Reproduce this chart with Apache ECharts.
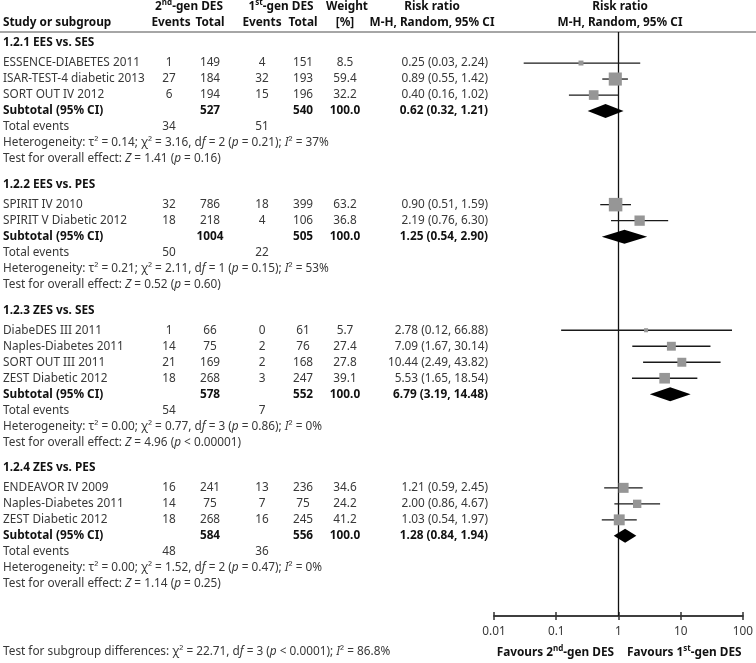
<!DOCTYPE html>
<html><head><meta charset="utf-8">
<script src="https://cdn.jsdelivr.net/npm/echarts@6/dist/echarts.min.js"></script>
<style>html,body{margin:0;padding:0;background:#fff}#c{width:756px;height:663px}</style>
</head><body><div id="c"></div>
<script>
// ---------- data ----------
const groupNames = ['1.2.1 EES vs. SES', '1.2.2 EES vs. PES', '1.2.3 ZES vs. SES', '1.2.4 ZES vs. PES'];
const studyNames = ['ESSENCE-DIABETES 2011', 'ISAR-TEST-4 diabetic 2013', 'SORT OUT IV 2012',
  'SPIRIT IV 2010', 'SPIRIT V Diabetic 2012',
  'DiabeDES III 2011', 'Naples-Diabetes 2011', 'SORT OUT III 2011', 'ZEST Diabetic 2012',
  'ENDEAVOR IV 2009', 'Naples-Diabetes 2011', 'ZEST Diabetic 2012'];
const studyGroup = [0, 0, 0, 1, 1, 2, 2, 2, 2, 3, 3, 3];
const events2 = [1, 27, 6, 32, 18, 1, 14, 21, 18, 16, 14, 18];
const total2 = [149, 184, 194, 786, 218, 66, 75, 169, 268, 241, 75, 268];
const events1 = [4, 32, 15, 18, 4, 0, 2, 2, 3, 13, 7, 16];
const total1 = [151, 193, 196, 399, 106, 61, 76, 168, 247, 236, 75, 245];
const weights = [8.5, 59.4, 32.2, 63.2, 36.8, 5.7, 27.4, 27.8, 39.1, 34.6, 24.2, 41.2];
const rr = [0.25, 0.89, 0.40, 0.90, 2.19, 2.78, 7.09, 10.44, 5.53, 1.21, 2.00, 1.03];
const rrLow = [0.03, 0.55, 0.16, 0.51, 0.76, 0.12, 1.67, 2.49, 1.65, 0.59, 0.86, 0.54];
const rrHigh = [2.24, 1.42, 1.02, 1.59, 6.30, 66.88, 30.14, 43.82, 18.54, 2.45, 4.67, 1.97];

const subTotal2 = [527, 1004, 578, 584];
const subTotal1 = [540, 505, 552, 556];
const subEvents2 = [34, 50, 54, 48];
const subEvents1 = [51, 22, 7, 36];
const subRR = [0.62, 1.25, 6.79, 1.28];
const subLow = [0.32, 0.54, 3.19, 0.84];
const subHigh = [1.21, 2.90, 14.48, 1.94];
const hetTau2 = ['0.14', '0.21', '0.00', '0.00'];
const hetChi2 = ['3.16', '2.11', '0.77', '1.52'];
const hetDf = [2, 1, 3, 2];
const hetP = ['0.21', '0.15', '0.86', '0.47'];
const hetI2 = [37, 53, 0, 0];
const effectZ = ['1.41', '0.52', '4.96', '1.14'];
const effectP = ['= 0.16', '= 0.60', '< 0.00001', '= 0.25'];
const overallTest = {chi2: '22.71', df: 3, p: '< 0.0001', i2: '86.8'};
const xTicks = [0.01, 0.1, 1, 10, 100];

// ---------- layout ----------
const FONT = 'Noto Sans';
const FS = 11.8;
const C_TXT = '#383838';
const C_BOLD = '#111';
const GRID_TOP = 32, AXIS_Y = 616, UNIT = 16;
const FIRST = 0.69, HEAD_GAP = 1.25, GROUP_GAP = 1.6;
const COL = {name: 3, ev2: 169, tot2: 210, ev1: 262, tot1: 303, wt: 345, rr: 488};

const rows = [];
let yy = FIRST;
groupNames.forEach((g, gi) => {
  if (gi > 0) yy += GROUP_GAP;
  rows.push({type: 'head', g: gi, y: yy});
  yy += HEAD_GAP;
  studyNames.forEach((s, i) => {
    if (studyGroup[i] === gi) { rows.push({type: 'study', i, y: yy}); yy += 1; }
  });
  rows.push({type: 'sub', g: gi, y: yy}); yy += 1;
  rows.push({type: 'tot', g: gi, y: yy}); yy += 1;
  rows.push({type: 'het', g: gi, y: yy}); yy += 1;
  rows.push({type: 'test', g: gi, y: yy});
});

const rich = {
  i: {fontStyle: 'italic', fontFamily: FONT, fontSize: FS, fill: C_TXT},
  sup: {fontFamily: FONT, fontSize: 8, fontWeight: 'bold', fill: C_BOLD, verticalAlign: 'top', lineHeight: 16},
  b: {fontFamily: FONT, fontSize: FS, fontWeight: 'bold', fill: C_BOLD, lineHeight: 16}
};
function T(x, y, text, opt) {
  opt = opt || {};
  return {type: 'text', x: x, y: y, silent: true, style: {
    text: text, fill: opt.bold ? C_BOLD : C_TXT, fontFamily: FONT, fontSize: FS,
    fontWeight: opt.bold ? 'bold' : 'normal', align: opt.align || 'center', verticalAlign: 'middle', rich: rich
  }};
}
const f2 = v => v.toFixed(2);
const ciText = (a, b, c) => `${f2(a)} (${f2(b)}, ${f2(c)})`;

function renderText(params, api) {
  const r = rows[api.value(2)];
  const y = api.coord([1, r.y])[1];
  const ch = [];
  if (r.type === 'head') {
    ch.push(T(COL.name, y, groupNames[r.g], {bold: true, align: 'left'}));
  } else if (r.type === 'study') {
    const i = r.i;
    ch.push(T(COL.name, y, studyNames[i], {align: 'left'}));
    ch.push(T(COL.ev2, y, String(events2[i])));
    ch.push(T(COL.tot2, y, String(total2[i])));
    ch.push(T(COL.ev1, y, String(events1[i])));
    ch.push(T(COL.tot1, y, String(total1[i])));
    ch.push(T(COL.wt, y, weights[i].toFixed(1)));
    ch.push(T(COL.rr, y, ciText(rr[i], rrLow[i], rrHigh[i]), {align: 'right'}));
  } else if (r.type === 'sub') {
    const g = r.g;
    ch.push(T(COL.name, y, 'Subtotal (95% CI)', {bold: true, align: 'left'}));
    ch.push(T(COL.tot2, y, String(subTotal2[g]), {bold: true}));
    ch.push(T(COL.tot1, y, String(subTotal1[g]), {bold: true}));
    ch.push(T(COL.wt, y, '100.0', {bold: true}));
    ch.push(T(COL.rr, y, ciText(subRR[g], subLow[g], subHigh[g]), {bold: true, align: 'right'}));
  } else if (r.type === 'tot') {
    const g = r.g;
    ch.push(T(COL.name, y, 'Total events', {align: 'left'}));
    ch.push(T(COL.ev2, y, String(subEvents2[g])));
    ch.push(T(COL.ev1, y, String(subEvents1[g])));
  } else if (r.type === 'het') {
    const g = r.g;
    ch.push(T(COL.name, y, `Heterogeneity: τ² = ${hetTau2[g]}; χ² = ${hetChi2[g]}, d{i|f} = ${hetDf[g]} ({i|p} = ${hetP[g]}); {i|I}² = ${hetI2[g]}%`, {align: 'left'}));
  } else if (r.type === 'test') {
    const g = r.g;
    ch.push(T(COL.name, y, `Test for overall effect: {i|Z} = ${effectZ[g]} ({i|p} ${effectP[g]})`, {align: 'left'}));
  }
  return {type: 'group', children: ch};
}

function renderMarks(params, api) {
  const kind = api.value(0);
  const y = api.coord([1, api.value(1)])[1];
  const xm = api.coord([api.value(2), 1])[0];
  const xl = api.coord([api.value(3), 1])[0];
  const xh = api.coord([api.value(4), 1])[0];
  if (kind === 0) {
    const s = 1.7 * Math.sqrt(api.value(5));
    return {type: 'group', children: [
      {type: 'line', shape: {x1: xl, y1: y, x2: xh, y2: y}, style: {stroke: '#1a1a1a', lineWidth: 1.3}},
      {type: 'rect', shape: {x: xm - s / 2, y: y - s / 2, width: s, height: s}, style: {fill: '#969696'}}
    ]};
  }
  const h = 7;
  return {type: 'polygon', shape: {points: [[xl, y], [xm, y - h], [xh, y], [xm, y + h]]}, style: {fill: '#000'}};
}

const markData = [];
rows.forEach(r => {
  if (r.type === 'study') markData.push([0, r.y, rr[r.i], rrLow[r.i], rrHigh[r.i], weights[r.i]]);
  if (r.type === 'sub') markData.push([1, r.y, subRR[r.g], subLow[r.g], subHigh[r.g], 100]);
});

const supHead = (a, b) => `{b|${a}}{sup|${b}}{b|-gen DES}`;
function G(x, y, text, opt) {
  opt = opt || {};
  return {type: 'text', x: x, y: y, silent: true, style: {
    text: text, fill: opt.color || C_BOLD, fontFamily: FONT, fontSize: FS,
    fontWeight: opt.bold === false ? 'normal' : 'bold', align: opt.align || 'center', verticalAlign: 'middle', rich: rich
  }};
}
const H1 = 7, H2 = 23;
const graphics = [
  G(3, H2, 'Study or subgroup', {align: 'left'}),
  G(189, H1, supHead('2', 'nd')),
  G(COL.ev2 + 2, H2, 'Events'), G(COL.tot2, H2, 'Total'),
  G(281, H1, supHead('1', 'st')),
  G(COL.ev1, H2, 'Events'), G(COL.tot1, H2, 'Total'),
  G(347, H1, 'Weight'), G(345, H2, '[%]'),
  G(432, H1, 'Risk ratio'), G(432, H2, 'M-H, Random, 95% CI'),
  G(620, H1, 'Risk ratio'), G(620, H2, 'M-H, Random, 95% CI'),
  {type: 'line', silent: true, shape: {x1: 0, y1: GRID_TOP, x2: 756, y2: GRID_TOP}, style: {stroke: '#888', lineWidth: 1.5}},
  G(3, 652, `Test for subgroup differences: χ² = ${overallTest.chi2}, d{i|f} = ${overallTest.df} ({i|p} ${overallTest.p}); {i|I}² = ${overallTest.i2}%`, {align: 'left', bold: false, color: C_TXT}),
  G(614, 653, `{b|Favours ${'2'}}{sup|nd}{b|-gen DES}`, {align: 'right'}),
  G(627, 653, `{b|Favours ${'1'}}{sup|st}{b|-gen DES}`, {align: 'left'})
];

const axisCommon = {
  type: 'log', logBase: 10, min: xTicks[0], max: xTicks[xTicks.length - 1],
  position: 'bottom', offset: 0,
  splitLine: {show: false},
  axisLine: {show: true, onZero: false, lineStyle: {color: '#333', width: 1.5}},
  minorTick: {show: false}
};

const chart = echarts.init(document.getElementById('c'), null, {renderer: 'canvas'});
chart.setOption({
  animation: false,
  backgroundColor: '#fff',
  grid: {left: 494, right: 12, top: GRID_TOP, bottom: 663 - AXIS_Y, containLabel: false},
  xAxis: [
    Object.assign({}, axisCommon, {
      axisTick: {show: true, length: 4, inside: false, lineStyle: {color: '#333', width: 1.5}},
      axisLabel: {show: true, margin: 10, fontFamily: FONT, fontSize: FS, color: C_TXT,
        formatter: v => String(+(+v).toPrecision(3))}
    }),
    Object.assign({}, axisCommon, {
      axisTick: {show: true, length: 4, inside: true, lineStyle: {color: '#333', width: 1.5}},
      axisLabel: {show: false}
    })
  ],
  yAxis: {type: 'value', min: 0, max: (AXIS_Y - GRID_TOP) / UNIT, inverse: true, show: false},
  graphic: graphics,
  series: [
    {
      type: 'custom', name: 'marks', xAxisIndex: 0, yAxisIndex: 0, clip: false, z: 3,
      renderItem: renderMarks, data: markData,
      markLine: {silent: true, symbol: ['none', 'none'], z: 1, label: {show: false},
        lineStyle: {color: '#111', width: 1.3, type: 'solid'}, data: [{xAxis: 1}]}
    },
    {
      type: 'custom', name: 'text', xAxisIndex: 0, yAxisIndex: 0, clip: false, z: 4,
      renderItem: renderText, data: rows.map((r, k) => [1, r.y, k])
    }
  ]
});
</script></body></html>
